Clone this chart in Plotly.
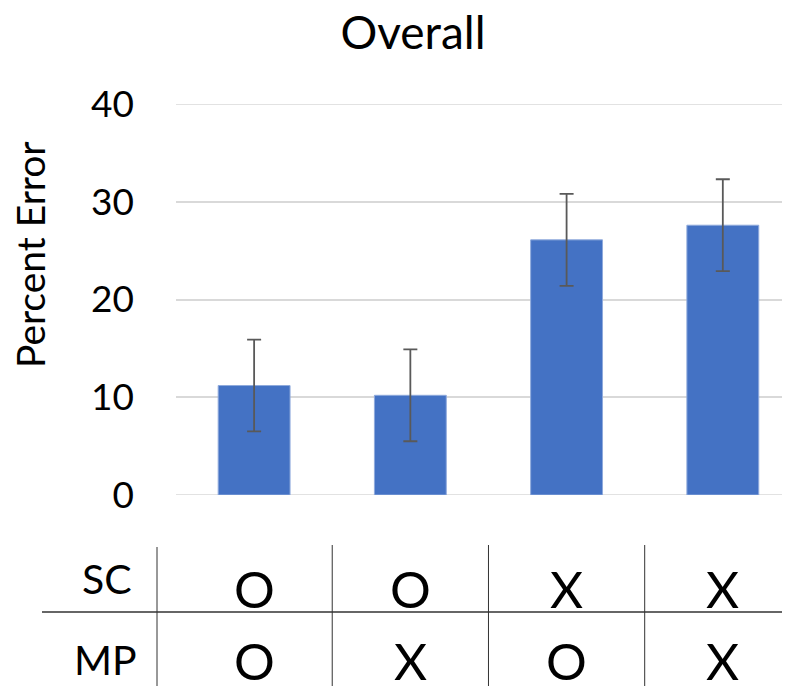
import plotly.graph_objects as go

conditions = ["1", "2", "3", "4"]
percent_error = [11.2, 10.2, 26.1, 27.6]
error_sd = [4.7, 4.7, 4.7, 4.7]
sc_marks = ["O", "O", "X", "X"]
mp_marks = ["O", "X", "O", "X"]
y_ticks = [0, 10, 20, 30, 40]

OFF = 8  # default page body margin
W, H = 790 - OFF, 686 - OFF
L = 176 - OFF
T = 104 - OFF
B = H - (495 - OFF)
R = 0
PW = W - L - R
PH = H - T - B
FONT = "Lato, Calibri, Carlito, sans-serif"

def px_x(px):
    return (px - OFF - L) / PW

def px_y(py):
    return (H - B - (py - OFF)) / PH

fig = go.Figure()
fig.add_trace(go.Bar(
    x=list(range(len(conditions))),
    y=percent_error,
    width=0.46,
    marker=dict(color="#4472C4", line=dict(color="#8FAADC", width=1)),
    error_y=dict(type="data", array=error_sd, visible=True,
                 color="#595959", thickness=1.8, width=7),
    hoverinfo="skip",
))

shapes = []
shapes.append(dict(type="line", xref="paper", yref="paper",
                   x0=px_x(42), x1=px_x(800), y0=px_y(612), y1=px_y(612),
                   line=dict(color="#333333", width=1.3)))
shapes.append(dict(type="line", xref="paper", yref="paper",
                   x0=px_x(157), x1=px_x(157), y0=px_y(547), y1=px_y(700),
                   line=dict(color="#333333", width=1)))
for k in range(len(conditions) - 1):
    shapes.append(dict(type="line", xref="x", yref="paper",
                       x0=k + 0.5, x1=k + 0.5, y0=px_y(545), y1=px_y(700),
                       line=dict(color="#333333", width=1)))

annotations = []
annotations.append(dict(text="Percent Error", xref="paper", yref="paper",
                        x=px_x(30), y=px_y(255), textangle=-90,
                        xanchor="center", yanchor="middle", showarrow=False,
                        font=dict(family=FONT, size=39, color="black")))
annotations.append(dict(text="SC", xref="paper", yref="paper", x=px_x(134), y=px_y(578),
                        xanchor="right", yanchor="middle", showarrow=False,
                        font=dict(family=FONT, size=41, color="black")))
annotations.append(dict(text="MP", xref="paper", yref="paper", x=px_x(139), y=px_y(659),
                        xanchor="right", yanchor="middle", showarrow=False,
                        font=dict(family=FONT, size=41, color="black")))
for i, (s, m) in enumerate(zip(sc_marks, mp_marks)):
    annotations.append(dict(text=s, xref="x", yref="paper", x=i, y=px_y(588),
                            xanchor="center", yanchor="middle", showarrow=False,
                            font=dict(family=FONT, size=51, color="black")))
    annotations.append(dict(text=m, xref="x", yref="paper", x=i, y=px_y(660),
                            xanchor="center", yanchor="middle", showarrow=False,
                            font=dict(family=FONT, size=51, color="black")))

fig.update_layout(
    width=W, height=H,
    margin=dict(l=L, r=R, t=T, b=B, pad=0),
    paper_bgcolor="white", plot_bgcolor="white",
    showlegend=False,
    title=dict(text="Overall", x=(413 - OFF) / W, xanchor="center",
               y=1 - (33 - OFF) / H, yanchor="middle",
               font=dict(family=FONT, size=46, color="black")),
    xaxis=dict(range=[-0.5, 3.43], showticklabels=False, showgrid=False,
               zeroline=False, showline=False, ticks=""),
    yaxis=dict(range=[0, 40], tickvals=y_ticks, showgrid=True, gridcolor="#D9D9D9",
               gridwidth=1.5, zeroline=False, showline=False, ticks="",
               tickfont=dict(family=FONT, size=37, color="black"),
               ticklabelstandoff=41),
    shapes=shapes,
    annotations=annotations,
)
fig.add_hline(y=0, line=dict(color="#D9D9D9", width=1.5), layer="below")
fig.add_hline(y=40, line=dict(color="#D9D9D9", width=1.5), layer="below")

fig.write_html("out.html")
